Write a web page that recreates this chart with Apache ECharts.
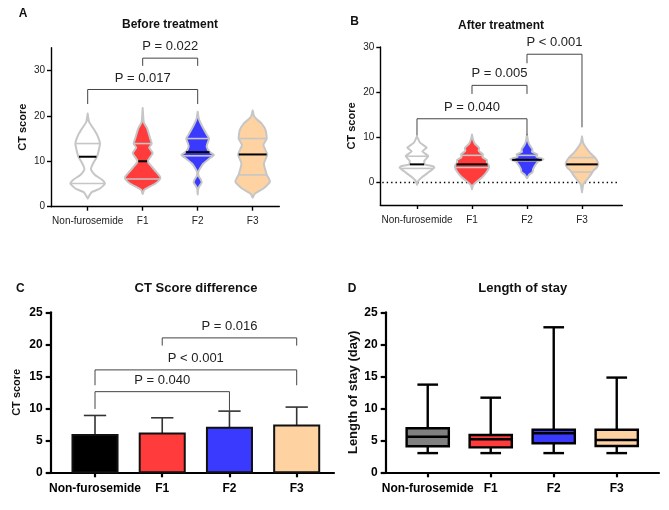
<!DOCTYPE html>
<html><head><meta charset="utf-8">
<script src="https://cdn.jsdelivr.net/npm/echarts@6/dist/echarts.min.js"></script>
<style>html,body{margin:0;padding:0;background:#fff}#c{width:669px;height:510px}</style>
</head><body><div id="c"></div>
<script>
const categories = ['Non-furosemide', 'F1', 'F2', 'F3'];
const yTicksCT = [0, 10, 20, 30];

// Panel A (before treatment): violin outlines as [CT score, half-width in category spacing]
const beforeNonFurosemide = [[20.5,0],[18.7,0.024],[17.2,0.104],[15.7,0.176],[13.9,0.224],[12.1,0.195],[11.0,0.169],[9.9,0.115],[8.8,0.07],[8.1,0.062],[7.0,0.133],[5.9,0.267],[5.1,0.315],[4.0,0.224],[3.2,0.073],[2.2,0.018],[1.8,0]];
const beforeF1 = [[21.7,0],[18.6,0.02],[17.2,0.082],[16.1,0.109],[15.0,0.136],[13.9,0.164],[13.0,0.118],[11.8,0.182],[10.0,0.091],[8.8,0.164],[7.7,0.242],[6.6,0.318],[6.1,0.318],[5.1,0.231],[4.1,0.078],[3.7,0.027],[2.8,0]];
const beforeF2 = [[20.9,0],[19.4,0.02],[18.7,0.042],[17.2,0.104],[15.7,0.176],[15.0,0.209],[13.9,0.176],[13.2,0.164],[12.1,0.213],[11.4,0.296],[10.6,0.213],[9.5,0.104],[8.4,0.042],[7.6,0.01],[6.8,0.015],[6.0,0.055],[5.3,0.073],[4.5,0.03],[3.9,0.008],[2.7,0]];
const beforeF3 = [[21.2,0],[20.1,0.02],[19.4,0.06],[18.3,0.164],[16.8,0.236],[15.0,0.255],[13.6,0.195],[11.5,0.264],[9.5,0.205],[7.1,0.255],[5.5,0.315],[4.0,0.195],[2.9,0.042],[2.0,0]];
// [Q1, median, Q3]
const beforeQuartiles = [[5.1,11.0,13.9],[6.1,10.0,13.9],[11.2,12.0,15.0],[7.0,11.5,15.0]];

// Panel B (after treatment)
const afterNonFurosemide = [[10.2,0],[8.8,0.055],[7.7,0.176],[6.9,0.096],[5.85,0.205],[4.75,0.133],[4.0,0.14],[3.6,0.29],[3.3,0.315],[2.2,0.205],[1.1,0.085],[0.35,0.024],[-0.5,0]];
const afterF1 = [[10.6,0],[9.5,0.02],[8.6,0.05],[7.6,0.13],[7.0,0.12],[6.2,0.2],[5.6,0.19],[5.0,0.27],[4.4,0.27],[3.7,0.31],[3.0,0.30],[2.2,0.26],[1.2,0.19],[0.3,0.1],[-0.6,0.02],[-1.5,0]];
const afterF2 = [[10.6,0],[9.1,0.02],[8.4,0.042],[7.3,0.10],[6.8,0.09],[6.2,0.19],[5.7,0.17],[5.1,0.30],[4.6,0.2],[4.0,0.16],[3.4,0.13],[2.9,0.11],[2.3,0.10],[1.7,0.04],[0.95,0]];
const afterF3 = [[10.2,0],[8.8,0.02],[7.7,0.073],[6.6,0.145],[5.6,0.231],[4.75,0.278],[4.0,0.296],[3.3,0.267],[2.55,0.205],[1.45,0.145],[0.35,0.073],[-0.4,0.024],[-2.2,0]];
const afterQuartiles = [[3.1,4.0,5.8],[3.3,4.0,6.0],[4.8,5.0,6.0],[2.3,4.0,5.5]];

// Panel C (CT score difference): mean and SD
const diffMean = [5.83, 6.07, 6.96, 7.32];
const diffSD = [3.05, 2.45, 2.60, 2.87];

// Panel D (length of stay, days)
const stayMin = [3, 3, 3, 3];
const stayQ1 = [4.06, 3.9, 4.53, 4.1];
const stayMedian = [5.56, 5.16, 6.09, 5.05];
const stayQ3 = [6.88, 5.83, 6.66, 6.66];
const stayMax = [13.7, 11.66, 22.66, 14.8];

// Significance brackets: [from, to, bar level, left end, right end, label]
const bracketsBefore = [[1,2,32.7,31.0,31.0,'P = 0.022'],[0,2,25.8,22.6,22.6,'P = 0.017']];
const bracketsAfter = [[2,3,28.4,26.4,12.2,'P < 0.001'],[1,2,21.5,19.6,19.6,'P = 0.005'],[0,2,14.1,10.4,10.4,'P = 0.040']];
const bracketsDiff = [[1,3,21.0,19.8,19.8,'P = 0.016'],[0,3,16.0,13.6,13.6,'P < 0.001'],[0,2,12.6,9.9,9.5,'P = 0.040']];

const violinColors = ['#ffffff', '#ff3b3b', '#3a3aff', '#ffd3a1'];
const barColors = ['#000000', '#ff3b3b', '#3a3aff', '#ffd3a1'];
const boxColors = ['#808080', '#ff3b3b', '#3a3aff', '#ffd3a1'];
const FONT = 'Liberation Sans, Arial, Helvetica, sans-serif';

function interp(prof, v) {
  for (let k = 0; k < prof.length - 1; k++) {
    const a = prof[k], b = prof[k + 1];
    if (v <= a[0] && v >= b[0]) {
      const t = (a[0] - v) / (a[0] - b[0]);
      return a[1] + t * (b[1] - a[1]);
    }
  }
  return 0;
}

function violinSeries(gi, profiles, quart) {
  return {
    type: 'custom', xAxisIndex: gi, yAxisIndex: gi, clip: false, z: 3,
    data: categories.map((c, i) => [i, quart[i][1]]),
    encode: { x: 0, y: 1 },
    renderItem: function (params, api) {
      const i = params.dataIndex;
      const prof = profiles[i];
      const right = prof.map(p => api.coord([i + p[1], p[0]]));
      const left = prof.slice().reverse().map(p => api.coord([i - p[1], p[0]]));
      const children = [{
        type: 'polygon', shape: { points: right.concat(left), smooth: 0.15 },
        style: { fill: violinColors[i], stroke: '#c6c6c6', lineWidth: 2, lineJoin: 'round' }
      }];
      [0, 2, 1].forEach(k => {
        const v = quart[i][k];
        const hw = Math.max(interp(prof, v) - 0.01, 0);
        const a = api.coord([i - hw, v]), b = api.coord([i + hw, v]);
        children.push({
          type: 'line', shape: { x1: a[0], y1: a[1], x2: b[0], y2: b[1] },
          style: { stroke: k === 1 ? '#000' : '#c6c6c6', lineWidth: k === 1 ? 2 : 1.6 }
        });
      });
      return { type: 'group', children: children };
    }
  };
}

function bracketSeries(gi, brackets) {
  return {
    type: 'custom', xAxisIndex: gi, yAxisIndex: gi, clip: false, z: 4,
    data: brackets.map(b => [(b[0] + b[1]) / 2, b[2]]),
    encode: { x: 0, y: 1 },
    renderItem: function (params, api) {
      const b = brackets[params.dataIndex];
      const p1 = api.coord([b[0], b[3]]), p2 = api.coord([b[0], b[2]]);
      const p3 = api.coord([b[1], b[2]]), p4 = api.coord([b[1], b[4]]);
      const mid = api.coord([(b[0] + b[1]) / 2, b[2]]);
      return {
        type: 'group', children: [
          { type: 'polyline', shape: { points: [p1, p2, p3, p4] }, style: { stroke: '#444', lineWidth: 1, fill: null } },
          { type: 'text', x: mid[0], y: mid[1] - 11.5,
            style: { text: b[5], fill: '#222', font: '13px ' + FONT, align: 'center', verticalAlign: 'middle', textAlign: 'center', textVerticalAlign: 'middle' } }
        ]
      };
    }
  };
}

function xAxisCfg(gi, min, max, bold) {
  return {
    gridIndex: gi, type: 'value', min: min, max: max,
    splitLine: { show: false },
    axisLine: { show: true, onZero: false, lineStyle: { color: '#000', width: bold ? 2.2 : 1.4 } },
    axisTick: { show: true, customValues: [0, 1, 2, 3], length: bold ? 5 : 4, lineStyle: { color: '#000', width: bold ? 2.2 : 1.4 } },
    axisLabel: {
      customValues: [0, 1, 2, 3], formatter: v => categories[Math.round(v)] || '',
      fontSize: bold ? 12 : 10, fontWeight: bold ? 'bold' : 'normal', color: bold ? '#000' : '#222',
      margin: bold ? 10 : 10, fontFamily: FONT
    }
  };
}

function yAxisCfg(gi, min, max, ticks, name, nameSize, nameGap, bold) {
  return {
    gridIndex: gi, type: 'value', min: min, max: max,
    splitLine: { show: false },
    axisLine: { show: true, onZero: false, lineStyle: { color: '#000', width: bold ? 2.2 : 1.4 } },
    axisTick: { show: true, customValues: ticks, length: bold ? 5 : 4, lineStyle: { color: '#000', width: bold ? 2.2 : 1.4 } },
    axisLabel: { customValues: ticks, fontSize: bold ? 12 : 10, fontWeight: bold ? 'bold' : 'normal', color: bold ? '#000' : '#222', margin: bold ? 8 : 6, fontFamily: FONT },
    name: name, nameLocation: 'middle', nameGap: nameGap,
    nameTextStyle: { fontSize: nameSize, fontWeight: 'bold', color: '#111', fontFamily: FONT }
  };
}

function txt(x, y, text, size) {
  return { type: 'text', x: x, y: y, silent: true,
    style: { text: text, font: 'bold ' + size + 'px ' + FONT, fill: '#111', align: 'center', verticalAlign: 'middle', textAlign: 'center', textVerticalAlign: 'middle' } };
}

const chart = echarts.init(document.getElementById('c'), null, { renderer: 'canvas' });
const xB = [-0.667, 3.733];

chart.setOption({
  animation: false,
  backgroundColor: '#fff',
  textStyle: { fontFamily: FONT },
  grid: [
    { left: 51, top: 47.7, width: 228.3, height: 159 },
    { left: 380.3, top: 47, width: 242, height: 158 },
    { left: 50.7, top: 312.3, width: 283.3, height: 160 },
    { left: 385.7, top: 312.3, width: 273.3, height: 160 }
  ],
  xAxis: [
    xAxisCfg(0, -0.667, 3.484, false),
    xAxisCfg(1, xB[0], xB[1], false),
    xAxisCfg(2, -0.659, 3.555, true),
    xAxisCfg(3, -0.667, 3.671, true)
  ],
  yAxis: [
    yAxisCfg(0, 0, 35, yTicksCT, 'CT score', 11, 23, false),
    yAxisCfg(1, -5, 30, yTicksCT, 'CT score', 11, 23, false),
    yAxisCfg(2, 0, 25, [0, 5, 10, 15, 20, 25], 'CT score', 11, 28, true),
    yAxisCfg(3, 0, 25, [0, 5, 10, 15, 20, 25], 'Length of stay (day)', 13, 26, true)
  ],
  graphic: [
    txt(23, 13.5, 'A', 12), txt(170, 25, 'Before treatment', 12),
    txt(354.5, 22, 'B', 12), txt(501, 25.5, 'After treatment', 12),
    txt(20.3, 288.3, 'C', 12), txt(196, 288.3, 'CT Score difference', 13),
    txt(352, 288.3, 'D', 12), txt(522.7, 288.3, 'Length of stay', 13)
  ],
  series: [
    violinSeries(0, [beforeNonFurosemide, beforeF1, beforeF2, beforeF3], beforeQuartiles),
    bracketSeries(0, bracketsBefore),
    {
      type: 'custom', xAxisIndex: 1, yAxisIndex: 1, clip: false, z: 2,
      data: [[xB[0], 0]], encode: { x: 0, y: 1 },
      renderItem: function (params, api) {
        const a = api.coord([xB[0], 0]), b = api.coord([xB[1], 0]);
        return { type: 'line', shape: { x1: a[0] + 2, y1: a[1], x2: b[0] - 3, y2: b[1] },
          style: { stroke: '#000', lineWidth: 1.4, lineDash: [1.4, 3] } };
      }
    },
    violinSeries(1, [afterNonFurosemide, afterF1, afterF2, afterF3], afterQuartiles),
    bracketSeries(1, bracketsAfter),
    {
      type: 'custom', xAxisIndex: 2, yAxisIndex: 2, clip: false, z: 3,
      data: diffMean.map((m, i) => [i, m]), encode: { x: 0, y: 1 },
      renderItem: function (params, api) {
        const i = params.dataIndex;
        const m = diffMean[i], top = m + diffSD[i];
        const tl = api.coord([i - 0.335, m]), br = api.coord([i + 0.335, 0]);
        const c0 = api.coord([i, m]), c1 = api.coord([i, top]);
        const e0 = api.coord([i - 0.166, top]), e1 = api.coord([i + 0.166, top]);
        return { type: 'group', children: [
          { type: 'line', shape: { x1: c0[0], y1: c0[1], x2: c1[0], y2: c1[1] }, style: { stroke: '#333', lineWidth: 1.6 } },
          { type: 'line', shape: { x1: e0[0], y1: e0[1], x2: e1[0], y2: e1[1] }, style: { stroke: '#333', lineWidth: 1.6 } },
          { type: 'rect', shape: { x: tl[0], y: tl[1], width: br[0] - tl[0], height: br[1] - tl[1] },
            style: { fill: barColors[i], stroke: '#111', lineWidth: 2 } }
        ] };
      }
    },
    bracketSeries(2, bracketsDiff),
    {
      type: 'custom', xAxisIndex: 3, yAxisIndex: 3, clip: false, z: 3,
      data: stayMedian.map((m, i) => [i, m]), encode: { x: 0, y: 1 },
      renderItem: function (params, api) {
        const i = params.dataIndex;
        const lo = api.coord([i, stayMin[i]]), hi = api.coord([i, stayMax[i]]);
        const q3 = api.coord([i - 0.335, stayQ3[i]]), q1 = api.coord([i + 0.335, stayQ1[i]]);
        const mL = api.coord([i - 0.335, stayMedian[i]]), mR = api.coord([i + 0.335, stayMedian[i]]);
        const cL = api.coord([i - 0.164, stayMin[i]]), cR = api.coord([i + 0.164, stayMin[i]]);
        const tL = api.coord([i - 0.164, stayMax[i]]), tR = api.coord([i + 0.164, stayMax[i]]);
        const st = { stroke: '#000', lineWidth: 2.4 };
        return { type: 'group', children: [
          { type: 'line', shape: { x1: lo[0], y1: lo[1], x2: hi[0], y2: hi[1] }, style: st },
          { type: 'line', shape: { x1: cL[0], y1: cL[1], x2: cR[0], y2: cR[1] }, style: st },
          { type: 'line', shape: { x1: tL[0], y1: tL[1], x2: tR[0], y2: tR[1] }, style: st },
          { type: 'rect', shape: { x: q3[0], y: q3[1], width: q1[0] - q3[0], height: q1[1] - q3[1] },
            style: { fill: boxColors[i], stroke: '#000', lineWidth: 2.4 } },
          { type: 'line', shape: { x1: mL[0], y1: mL[1], x2: mR[0], y2: mR[1] }, style: st }
        ] };
      }
    }
  ]
});
</script>
</body></html>
